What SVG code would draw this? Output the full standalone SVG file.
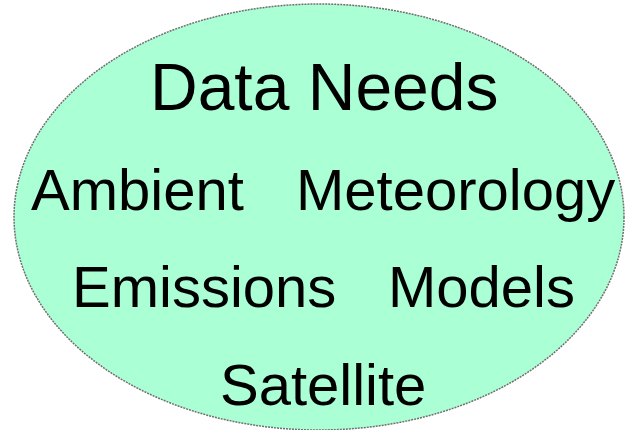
<svg xmlns="http://www.w3.org/2000/svg" width="626" height="430" viewBox="0 0 626 430">
<style>
.t{font-family:"Liberation Sans",Arial,sans-serif;fill:#000}
.r{font-size:58px}
</style>
<rect width="626" height="430" fill="#fff"/>
<g id="ellipse">
<ellipse cx="319" cy="217" rx="305" ry="213" fill="#aaffd4" stroke="#707070" stroke-width="1.5" stroke-dasharray="2,1"/>
</g>
<g id="title"><text class="t" x="150" y="110" font-size="66">Data Needs</text></g>
<g id="ambient"><text class="t r" x="31" y="210">Ambient</text></g>
<g id="meteorology"><text class="t r" x="296" y="210">Meteorology</text></g>
<g id="emissions"><text class="t r" x="72" y="307">Emissions</text></g>
<g id="models"><text class="t r" x="388" y="307">Models</text></g>
<g id="satellite"><text class="t r" x="220" y="405">Satellite</text></g>
</svg>
